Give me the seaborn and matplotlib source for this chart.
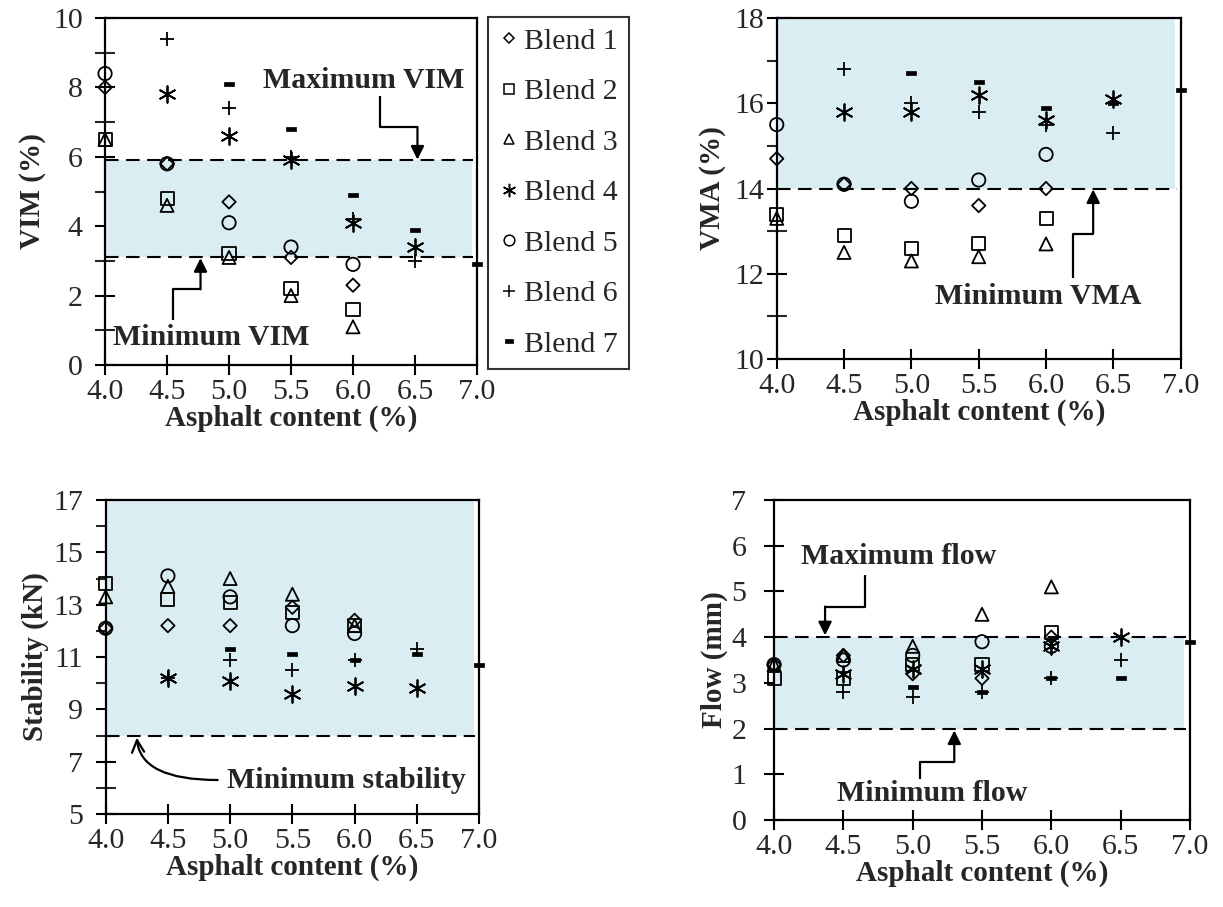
import numpy as np
import pandas as pd
import matplotlib
matplotlib.use("Agg")
import matplotlib.pyplot as plt
import seaborn as sns
from matplotlib.lines import Line2D

sns.set_theme(style="white")
plt.rcParams['font.family'] = ['Liberation Serif', 'DejaVu Serif']

# ---------------- data ----------------
blends = ["Blend 1", "Blend 2", "Blend 3", "Blend 4", "Blend 5", "Blend 6", "Blend 7"]
x_early = [4.0, 4.5, 5.0, 5.5, 6.0]   # blends 1, 2, 3, 5
x_mid = [4.5, 5.0, 5.5, 6.0, 6.5]     # blends 4, 6
x_late = [5.0, 5.5, 6.0, 6.5, 7.0]    # blend 7
blend_x = [x_early, x_early, x_early, x_mid, x_early, x_mid, x_late]

vim_b1 = [8.0, 5.8, 4.7, 3.1, 2.3]
vim_b2 = [6.5, 4.8, 3.2, 2.2, 1.6]
vim_b3 = [6.5, 4.6, 3.1, 2.0, 1.1]
vim_b4 = [7.8, 6.6, 5.9, 4.1, 3.4]
vim_b5 = [8.4, 5.8, 4.1, 3.4, 2.9]
vim_b6 = [9.4, 7.4, 6.0, 4.2, 3.0]
vim_b7 = [8.1, 6.8, 4.9, 3.9, 2.9]

vma_b1 = [14.7, 14.1, 14.0, 13.6, 14.0]
vma_b2 = [13.4, 12.9, 12.6, 12.7, 13.3]
vma_b3 = [13.3, 12.5, 12.3, 12.4, 12.7]
vma_b4 = [15.8, 15.8, 16.2, 15.6, 16.1]
vma_b5 = [15.5, 14.1, 13.7, 14.2, 14.8]
vma_b6 = [16.8, 16.0, 15.8, 15.5, 15.3]
vma_b7 = [16.7, 16.5, 15.9, 16.0, 16.3]

stab_b1 = [12.1, 12.2, 12.2, 12.9, 12.4]
stab_b2 = [13.8, 13.2, 13.1, 12.7, 12.2]
stab_b3 = [13.3, 13.7, 14.0, 13.4, 12.2]
stab_b4 = [10.2, 10.1, 9.6, 9.9, 9.8]
stab_b5 = [12.1, 14.1, 13.3, 12.2, 11.9]
stab_b6 = [10.2, 10.9, 10.5, 10.9, 11.3]
stab_b7 = [11.3, 11.1, 10.9, 11.1, 10.7]

flow_b1 = [3.4, 3.6, 3.2, 3.1, 4.0]
flow_b2 = [3.1, 3.1, 3.4, 3.4, 4.1]
flow_b3 = [3.4, 3.6, 3.8, 4.5, 5.1]
flow_b4 = [3.2, 3.3, 3.3, 3.8, 4.0]
flow_b5 = [3.4, 3.5, 3.6, 3.9, 3.8]
flow_b6 = [2.8, 2.7, 2.8, 3.1, 3.5]
flow_b7 = [2.9, 2.8, 3.1, 3.1, 3.9]

vim_limits = [3.1, 5.9]
vma_limits = [14.0, 18.0]
stab_limits = [8.0, 17.0]
flow_limits = [2.0, 4.0]

x_ticks = [4.0, 4.5, 5.0, 5.5, 6.0, 6.5, 7.0]

# ---------------- styling ----------------
SHADE = "#DAEDF3"
TICK_FS = 21.5
LABEL_FS = 21
NOTE_FS = 21.5
dash_verts = [(-1, -0.45), (1, -0.45), (1, 0.45), (-1, 0.45), (-1, -0.45)]
mstyle = {
    "Blend 1": dict(marker="D", ms=6.8, filled=False),
    "Blend 2": dict(marker="s", ms=9.4, filled=False),
    "Blend 3": dict(marker="^", ms=9.4, filled=False),
    "Blend 4": dict(marker=(6, 2, 0), ms=12.0, filled=None),
    "Blend 5": dict(marker="o", ms=9.6, filled=False),
    "Blend 6": dict(marker="+", ms=10.5, filled=None),
    "Blend 7": dict(marker=dash_verts, ms=7.2, filled=True),
}


def make_df(series):
    rows = []
    for b, xs, ys in zip(blends, blend_x, series):
        for xv, yv in zip(xs, ys):
            rows.append({"Blend": b, "x": xv, "y": yv})
    return pd.DataFrame(rows)


def draw_points(ax, df):
    for b in blends:
        st = mstyle[b]
        sub = df[df["Blend"] == b]
        kw = dict(data=sub, x="x", y="y", ax=ax, marker=st["marker"],
                  s=st["ms"] ** 2, legend=False, zorder=5, clip_on=False)
        if st["filled"] is False:
            kw.update(facecolor="none", edgecolor="black", linewidth=1.3)
        elif st["filled"] is None:
            kw.update(color="black", linewidth=1.3)
        else:
            kw.update(color="black", edgecolor="black", linewidth=0.5)
        sns.scatterplot(**kw)


def style_axes(ax, ylim, yticks, yminor, ylabel, ypad=3):
    ax.set_xlim(4.0, 7.0)
    ax.set_ylim(*ylim)
    ax.set_xticks(x_ticks)
    ax.set_xticklabels([f"{v:.1f}" for v in x_ticks])
    ax.set_yticks(yticks)
    ax.set_yticklabels([f"{v:g}" for v in yticks])
    ax.set_yticks(yminor, minor=True)
    ax.tick_params(axis="both", which="major", direction="inout", length=14,
                   width=1.5, labelsize=TICK_FS, color="black", pad=3,
                   bottom=True, left=True, top=False, right=False)
    ax.tick_params(axis="y", which="major", pad=ypad)
    ax.tick_params(axis="y", which="minor", direction="inout", length=14,
                   width=1.5, left=True, right=False)
    for sp in ax.spines.values():
        sp.set_visible(True)
        sp.set_color("black")
        sp.set_linewidth(1.6)
    ax.set_ylabel(ylabel, fontsize=LABEL_FS, fontweight="bold")
    ax.set_xlabel("Asphalt content (%)", fontsize=LABEL_FS, fontweight="bold")
    ax.grid(False)
    ax.set_facecolor("white")


def band(ax, lo, hi, draw_lo=True, draw_hi=True):
    ax.fill_between([4.0, 6.96], [lo, lo], [hi, hi], color=SHADE, lw=0, zorder=1)
    for v, d in ((lo, draw_lo), (hi, draw_hi)):
        if d:
            ax.hlines(v, 4.0, 6.97, colors="black", linestyles=(0, (6.5, 3.6)),
                      lw=1.5, zorder=2)


def elbow_arrow(ax, pts, style="-|>"):
    xs = [p[0] for p in pts[:-1]]
    ys = [p[1] for p in pts[:-1]]
    ax.plot(xs, ys, color="black", lw=1.6, zorder=6, clip_on=False,
            solid_capstyle="butt")
    ax.annotate("", xy=pts[-1], xytext=pts[-2],
                arrowprops=dict(arrowstyle=style, color="black", lw=1.6,
                                mutation_scale=20, shrinkA=0, shrinkB=0),
                zorder=6)


fig = plt.figure(figsize=(12.23, 9.07), dpi=100)
fig.patch.set_facecolor("white")

ax_vim = fig.add_axes([0.0859, 0.5976, 0.3041, 0.3825])
ax_vma = fig.add_axes([0.6351, 0.6042, 0.3303, 0.3759])
ax_stab = fig.add_axes([0.0864, 0.1025, 0.3053, 0.3462])
ax_flow = fig.add_axes([0.6329, 0.0959, 0.3401, 0.3528])

# ---- VIM ----
band(ax_vim, *vim_limits)
draw_points(ax_vim, make_df([vim_b1, vim_b2, vim_b3, vim_b4, vim_b5, vim_b6, vim_b7]))
style_axes(ax_vim, (0, 10), [0, 2, 4, 6, 8, 10], list(range(0, 11)), "VIM (%)", ypad=9)
ax_vim.text(6.09, 8.2, "Maximum VIM", ha="center", va="center",
            fontsize=NOTE_FS, fontweight="bold", zorder=7)
elbow_arrow(ax_vim, [(6.22, 7.75), (6.22, 6.86), (6.52, 6.86), (6.52, 5.92)])
ax_vim.text(4.86, 0.78, "Minimum VIM", ha="center", va="center",
            fontsize=NOTE_FS, fontweight="bold", zorder=7)
elbow_arrow(ax_vim, [(4.55, 1.3), (4.55, 2.18), (4.77, 2.18), (4.77, 3.08)])

# ---- VMA ----
band(ax_vma, vma_limits[0], vma_limits[1], draw_hi=False)
draw_points(ax_vma, make_df([vma_b1, vma_b2, vma_b3, vma_b4, vma_b5, vma_b6, vma_b7]))
style_axes(ax_vma, (10, 18), [10, 12, 14, 16, 18], list(range(10, 19)), "VMA (%)", ypad=2)
ax_vma.text(5.94, 11.46, "Minimum VMA", ha="center", va="center",
            fontsize=NOTE_FS, fontweight="bold", zorder=7)
elbow_arrow(ax_vma, [(6.20, 11.9), (6.20, 12.94), (6.35, 12.94), (6.35, 13.98)])

# ---- Stability ----
band(ax_stab, stab_limits[0], stab_limits[1], draw_hi=False)
draw_points(ax_stab, make_df([stab_b1, stab_b2, stab_b3, stab_b4, stab_b5, stab_b6, stab_b7]))
style_axes(ax_stab, (5, 17), [5, 7, 9, 11, 13, 15, 17], list(range(5, 18)), "Stability (kN)", ypad=9)
ax_stab.text(5.93, 6.3, "Minimum stability", ha="center", va="center",
             fontsize=NOTE_FS, fontweight="bold", zorder=7)
ax_stab.annotate("", xy=(4.25, 7.92), xytext=(4.90, 6.3),
                 arrowprops=dict(arrowstyle="->", color="black", lw=1.6,
                                 mutation_scale=22, shrinkA=0, shrinkB=0,
                                 connectionstyle="angle3,angleA=180,angleB=95"),
                 zorder=6)

# ---- Flow ----
band(ax_flow, *flow_limits)
draw_points(ax_flow, make_df([flow_b1, flow_b2, flow_b3, flow_b4, flow_b5, flow_b6, flow_b7]))
style_axes(ax_flow, (0, 7), list(range(0, 8)), list(range(0, 8)), "Flow (mm)", ypad=13)
ax_flow.text(4.90, 5.77, "Maximum flow", ha="center", va="center",
             fontsize=NOTE_FS, fontweight="bold", zorder=7)
elbow_arrow(ax_flow, [(4.656, 5.36), (4.656, 4.67), (4.368, 4.67), (4.368, 4.04)])
ax_flow.text(5.14, 0.58, "Minimum flow", ha="center", va="center",
             fontsize=NOTE_FS, fontweight="bold", zorder=7)
elbow_arrow(ax_flow, [(5.05, 0.9), (5.05, 1.27), (5.30, 1.27), (5.30, 1.96)])

for ax in (ax_vim, ax_vma, ax_stab, ax_flow):
    ax.xaxis.labelpad = 0
ax_vim.yaxis.labelpad = 5
ax_vma.yaxis.labelpad = 6
ax_stab.yaxis.labelpad = 3
ax_flow.yaxis.labelpad = 2

# ---- legend ----
handles = []
for b in blends:
    st = mstyle[b]
    if st["filled"] is False:
        h = Line2D([], [], ls="none", marker=st["marker"], ms=st["ms"] * 0.8,
                   mfc="none", mec="black", mew=1.1)
    elif st["filled"] is None:
        h = Line2D([], [], ls="none", marker=st["marker"], ms=st["ms"] * 0.8,
                   color="black", mew=1.1)
    else:
        h = Line2D([], [], ls="none", marker=st["marker"], ms=st["ms"] * 0.8,
                   mfc="black", mec="black", mew=0.5)
    handles.append(h)
leg = fig.legend(handles, blends, loc="upper left",
                 bbox_to_anchor=(0.399, 0.981), frameon=True, fancybox=False,
                 edgecolor="black", fontsize=21.5, labelspacing=0.79,
                 handlelength=0.7, handletextpad=0.15, borderpad=0.36,
                 borderaxespad=0.0)
leg.get_frame().set_linewidth(1.5)

fig.savefig("out.png", dpi=100, facecolor="white")
